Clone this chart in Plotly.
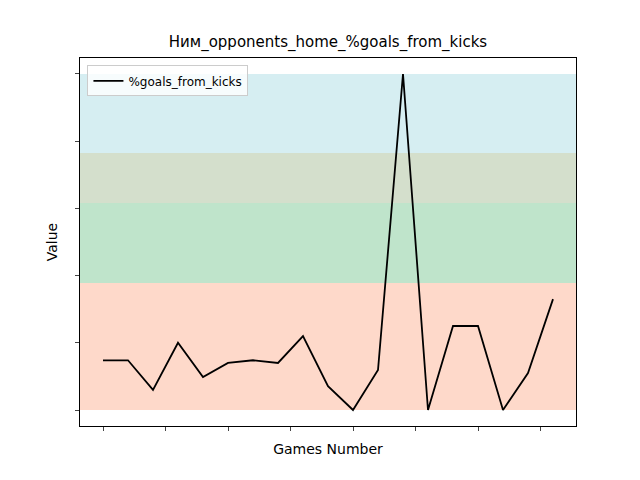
import plotly.graph_objects as go

games = list(range(19))
values = [0.148, 0.148, 0.06, 0.2, 0.098, 0.14, 0.148, 0.14, 0.22, 0.071, 0.0,
          0.119, 1.0, 0.0, 0.25, 0.25, 0.0, 0.11, 0.33]
band_edges = [0.0, 0.378, 0.616, 0.765, 1.0]
band_colors = ['#fed9ca', '#bfe4cb', '#d4dfcc', '#d6eef2']
y_ticks = [0, 0.2, 0.4, 0.6, 0.8, 1.0]
x_ticks = [0, 2.5, 5, 7.5, 10, 12.5, 15, 17.5]

fig = go.Figure()
for lo, hi, c in zip(band_edges[:-1], band_edges[1:], band_colors):
    fig.add_shape(type='rect', xref='paper', x0=0, x1=1, y0=lo, y1=hi,
                  fillcolor=c, line_width=0, layer='below')

fig.add_trace(go.Scatter(x=games, y=values, mode='lines', name='%goals_from_kicks',
                         line=dict(color='black', width=1.8)))

axis = dict(showgrid=False, zeroline=False, showline=True, linecolor='black',
            mirror=True, ticks='outside', ticklen=4, showticklabels=False)
fig.update_layout(
    width=640, height=480,
    margin=dict(l=72, r=72, t=50, b=62),
    plot_bgcolor='white', paper_bgcolor='white',
    font=dict(family='DejaVu Sans', size=12, color='black'),
    title=dict(text='Ним_opponents_home_%goals_from_kicks', x=0.5, y=0.94,
               xanchor='center', font=dict(size=15)),
    xaxis=dict(axis, range=[-0.92, 18.92], tickvals=x_ticks,
               title=dict(text='Games Number', standoff=14)),
    yaxis=dict(axis, range=[-0.0476, 1.0476], tickvals=y_ticks,
               title=dict(text='Value', standoff=14)),
    showlegend=True,
    legend=dict(x=0.015, y=0.98, xanchor='left', yanchor='top',
                bgcolor='rgba(255,255,255,0.8)', bordercolor='#cccccc', borderwidth=1,
                font=dict(size=12)),
)
fig.write_html('out.html')
